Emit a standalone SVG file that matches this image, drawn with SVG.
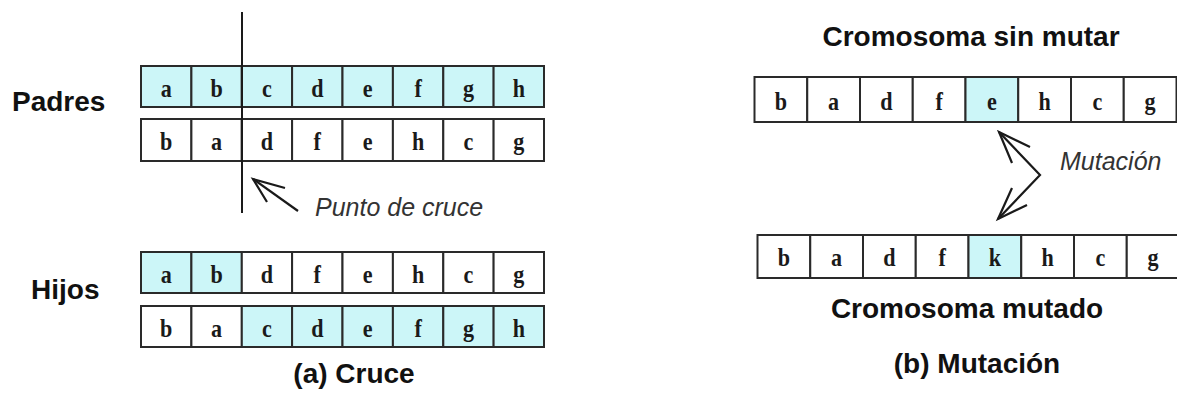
<svg xmlns="http://www.w3.org/2000/svg" width="1177" height="394" viewBox="0 0 1177 394">
  <style>
    .cell { fill: #ffffff; stroke: #2a2a2a; stroke-width: 2; }
    .hl { fill: #ccf6f8; }
    .gene { font-family: "Liberation Serif", "Times New Roman", serif; font-weight: bold; font-size: 26px; fill: #1a1a1a; text-anchor: middle; }
    .label { font-family: "Liberation Sans", Arial, sans-serif; font-weight: bold; font-size: 28px; fill: #111111; }
    .note { font-family: "Liberation Sans", Arial, sans-serif; font-style: italic; font-size: 25px; fill: #333333; }
    .conn { fill: none; stroke: #1a1a1a; stroke-width: 2.2; stroke-linejoin: miter; stroke-linecap: butt; }
  </style>

  <!-- (a) Crossover -->
  <g id="label-padres"><text class="label" x="12" y="111">Padres</text></g>
  <g id="label-hijos"><text class="label" x="31" y="299">Hijos</text></g>

  <!-- parent 1 -->
  <g id="parent1">
    <rect class="cell hl" x="141" y="66" width="50.4" height="41"/>
    <rect class="cell hl" x="191.4" y="66" width="50.4" height="41"/>
    <rect class="cell hl" x="241.8" y="66" width="50.4" height="41"/>
    <rect class="cell hl" x="292.1" y="66" width="50.4" height="41"/>
    <rect class="cell hl" x="342.5" y="66" width="50.4" height="41"/>
    <rect class="cell hl" x="392.9" y="66" width="50.4" height="41"/>
    <rect class="cell hl" x="443.3" y="66" width="50.4" height="41"/>
    <rect class="cell hl" x="493.6" y="66" width="50.4" height="41"/>
    <!-- gene letters are drawn narrowed: x values are pre-divided by 0.85 -->
    <g transform="scale(0.85,1)">
      <text class="gene" x="195.5" y="97">a</text>
      <text class="gene" x="254.8" y="97">b</text>
      <text class="gene" x="314.1" y="97">c</text>
      <text class="gene" x="373.3" y="97">d</text>
      <text class="gene" x="432.6" y="97">e</text>
      <text class="gene" x="491.9" y="97">f</text>
      <text class="gene" x="551.2" y="97">g</text>
      <text class="gene" x="610.4" y="97">h</text>
    </g>
  </g>

  <!-- parent 2 -->
  <g id="parent2">
    <rect class="cell" x="141" y="119" width="50.4" height="42"/>
    <rect class="cell" x="191.4" y="119" width="50.4" height="42"/>
    <rect class="cell" x="241.8" y="119" width="50.4" height="42"/>
    <rect class="cell" x="292.1" y="119" width="50.4" height="42"/>
    <rect class="cell" x="342.5" y="119" width="50.4" height="42"/>
    <rect class="cell" x="392.9" y="119" width="50.4" height="42"/>
    <rect class="cell" x="443.3" y="119" width="50.4" height="42"/>
    <rect class="cell" x="493.6" y="119" width="50.4" height="42"/>
    <g transform="scale(0.85,1)">
      <text class="gene" x="195.5" y="150">b</text>
      <text class="gene" x="254.8" y="150">a</text>
      <text class="gene" x="314.1" y="150">d</text>
      <text class="gene" x="373.3" y="150">f</text>
      <text class="gene" x="432.6" y="150">e</text>
      <text class="gene" x="491.9" y="150">h</text>
      <text class="gene" x="551.2" y="150">c</text>
      <text class="gene" x="610.4" y="150">g</text>
    </g>
  </g>

  <!-- child 1 -->
  <g id="child1">
    <rect class="cell hl" x="141" y="252" width="50.4" height="41"/>
    <rect class="cell hl" x="191.4" y="252" width="50.4" height="41"/>
    <rect class="cell" x="241.8" y="252" width="50.4" height="41"/>
    <rect class="cell" x="292.1" y="252" width="50.4" height="41"/>
    <rect class="cell" x="342.5" y="252" width="50.4" height="41"/>
    <rect class="cell" x="392.9" y="252" width="50.4" height="41"/>
    <rect class="cell" x="443.3" y="252" width="50.4" height="41"/>
    <rect class="cell" x="493.6" y="252" width="50.4" height="41"/>
    <g transform="scale(0.85,1)">
      <text class="gene" x="195.5" y="283">a</text>
      <text class="gene" x="254.8" y="283">b</text>
      <text class="gene" x="314.1" y="283">d</text>
      <text class="gene" x="373.3" y="283">f</text>
      <text class="gene" x="432.6" y="283">e</text>
      <text class="gene" x="491.9" y="283">h</text>
      <text class="gene" x="551.2" y="283">c</text>
      <text class="gene" x="610.4" y="283">g</text>
    </g>
  </g>

  <!-- child 2 -->
  <g id="child2">
    <rect class="cell" x="141" y="306" width="50.4" height="41"/>
    <rect class="cell" x="191.4" y="306" width="50.4" height="41"/>
    <rect class="cell hl" x="241.8" y="306" width="50.4" height="41"/>
    <rect class="cell hl" x="292.1" y="306" width="50.4" height="41"/>
    <rect class="cell hl" x="342.5" y="306" width="50.4" height="41"/>
    <rect class="cell hl" x="392.9" y="306" width="50.4" height="41"/>
    <rect class="cell hl" x="443.3" y="306" width="50.4" height="41"/>
    <rect class="cell hl" x="493.6" y="306" width="50.4" height="41"/>
    <g transform="scale(0.85,1)">
      <text class="gene" x="195.5" y="337">b</text>
      <text class="gene" x="254.8" y="337">a</text>
      <text class="gene" x="314.1" y="337">c</text>
      <text class="gene" x="373.3" y="337">d</text>
      <text class="gene" x="432.6" y="337">e</text>
      <text class="gene" x="491.9" y="337">f</text>
      <text class="gene" x="551.2" y="337">g</text>
      <text class="gene" x="610.4" y="337">h</text>
    </g>
  </g>

  <g id="crossover-point">
    <line x1="242" y1="12" x2="242" y2="213" stroke="#1a1a1a" stroke-width="2"/>
    <text class="note" x="315" y="216">Punto de cruce</text>
  </g>

  <g id="caption-a"><text class="label" x="354" y="383" text-anchor="middle">(a) Cruce</text></g>

  <!-- (b) Mutation -->
  <g id="label-original"><text class="label" x="971" y="46" text-anchor="middle">Cromosoma sin mutar</text></g>

  <g id="original">
    <rect class="cell" x="754.5" y="77" width="52.75" height="45"/>
    <rect class="cell" x="807.25" y="77" width="52.75" height="45"/>
    <rect class="cell" x="860" y="77" width="52.75" height="45"/>
    <rect class="cell" x="912.75" y="77" width="52.75" height="45"/>
    <rect class="cell hl" x="965.5" y="77" width="52.75" height="45"/>
    <rect class="cell" x="1018.25" y="77" width="52.75" height="45"/>
    <rect class="cell" x="1071" y="77" width="52.75" height="45"/>
    <rect class="cell" x="1123.75" y="77" width="52.75" height="45"/>
    <g transform="scale(0.85,1)">
      <text class="gene" x="918.7" y="110.5">b</text>
      <text class="gene" x="980.7" y="110.5">a</text>
      <text class="gene" x="1042.8" y="110.5">d</text>
      <text class="gene" x="1104.8" y="110.5">f</text>
      <text class="gene" x="1166.9" y="110.5">e</text>
      <text class="gene" x="1228.9" y="110.5">h</text>
      <text class="gene" x="1291.1" y="110.5">c</text>
      <text class="gene" x="1353.1" y="110.5">g</text>
    </g>
  </g>

  <g id="mutation-note"><text class="note" x="1060" y="170">Mutación</text></g>

  <g id="mutated">
    <rect class="cell" x="757.5" y="235" width="52.75" height="43"/>
    <rect class="cell" x="810.25" y="235" width="52.75" height="43"/>
    <rect class="cell" x="863" y="235" width="52.75" height="43"/>
    <rect class="cell" x="915.75" y="235" width="52.75" height="43"/>
    <rect class="cell hl" x="968.5" y="235" width="52.75" height="43"/>
    <rect class="cell" x="1021.25" y="235" width="52.75" height="43"/>
    <rect class="cell" x="1074" y="235" width="52.75" height="43"/>
    <rect class="cell" x="1126.75" y="235" width="52.75" height="43"/>
    <g transform="scale(0.85,1)">
      <text class="gene" x="922.2" y="266.5">b</text>
      <text class="gene" x="984.2" y="266.5">a</text>
      <text class="gene" x="1046.4" y="266.5">d</text>
      <text class="gene" x="1108.4" y="266.5">f</text>
      <text class="gene" x="1170.5" y="266.5">k</text>
      <text class="gene" x="1232.5" y="266.5">h</text>
      <text class="gene" x="1294.6" y="266.5">c</text>
      <text class="gene" x="1356.6" y="266.5">g</text>
    </g>
  </g>

  <g id="label-mutated"><text class="label" x="967" y="318" text-anchor="middle">Cromosoma mutado</text></g>
  <g id="caption-b"><text class="label" x="977" y="373" text-anchor="middle">(b) Mutación</text></g>

  <!-- connectors: open-headed arrows -->
  <g id="connectors">
    <path class="conn" d="M298,211 L253,179"/>
    <path class="conn" d="M285,188 L253,179 L267,202"/>
    <path class="conn" d="M999,132 L1040,175 L998,219"/>
    <path class="conn" d="M1030,147 L999,132 L1012,163"/>
    <path class="conn" d="M1012,188 L998,219 L1027,205"/>
  </g>
</svg>
